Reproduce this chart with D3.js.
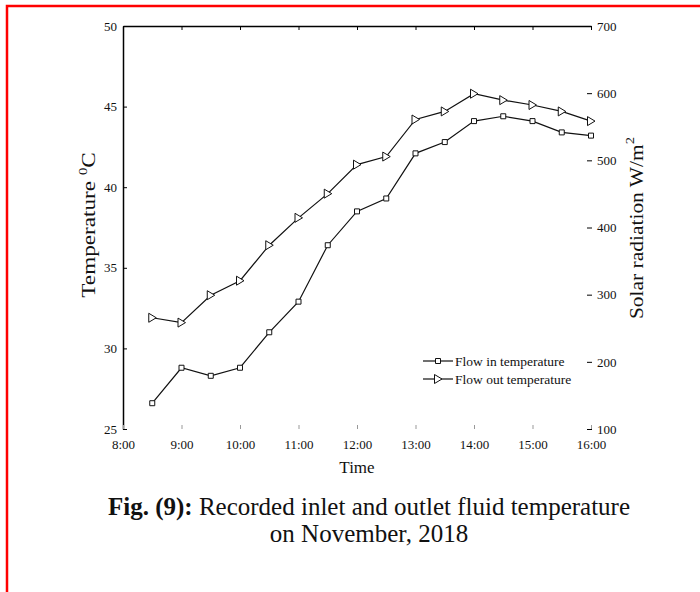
<!DOCTYPE html>
<html>
<head>
<meta charset="utf-8">
<script src="https://cdn.jsdelivr.net/npm/d3@7"></script>
<style>
  body { margin: 0; background: #fff; }
  text { font-family: "Liberation Serif", "Times New Roman", serif; fill: #111; }
</style>
</head>
<body>
<div id="vis-container"></div>
<script>
const width = 700;
const height = 592;
const margin = { top: 26, right: 109, bottom: 163, left: 123 };

// values (temperature, deg C)
const times = [8.5, 9, 9.5, 10, 10.5, 11, 11.5, 12, 12.5, 13, 13.5, 14, 14.5, 15, 15.5, 16];
const flowIn = [26.6, 28.8, 28.3, 28.8, 31.0, 32.9, 36.4, 38.5, 39.3, 42.1, 42.8, 44.1, 44.4, 44.1, 43.4, 43.2];
const flowOut = [31.9, 31.6, 33.3, 34.2, 36.4, 38.1, 39.6, 41.4, 41.9, 44.2, 44.7, 45.8, 45.4, 45.1, 44.7, 44.1];
const hourTicks = [8, 9, 10, 11, 12, 13, 14, 15, 16];
const tempTicks = [25, 30, 35, 40, 45, 50];
const radTicks = [100, 200, 300, 400, 500, 600, 700];
const seriesNames = ["Flow in temperature", "Flow out temperature"];

const svg = d3.select("#vis-container")
  .append("svg")
  .attr("width", width)
  .attr("height", height);

// red frame (top and left only)
svg.append("path")
  .attr("d", "M7,592 V6 H700")
  .attr("fill", "none")
  .attr("stroke", "#ff0000")
  .attr("stroke-width", 2.5);

// scales
const x = d3.scaleLinear()
  .domain([8, 16])
  .range([margin.left, width - margin.right]);

const y = d3.scaleLinear()
  .domain([25, 50])
  .range([height - margin.bottom, margin.top]);

const yR = d3.scaleLinear()
  .domain([100, 700])
  .range([height - margin.bottom, margin.top]);

// left axis
svg.append("g")
  .attr("transform", `translate(${margin.left},0)`)
  .call(d3.axisLeft(y).tickValues(tempTicks).tickSizeInner(-4).tickSizeOuter(0).tickPadding(6))
  .call(g => g.selectAll("text").attr("font-size", 13).attr("font-family", null))
  .call(g => g.select(".domain").attr("stroke-width", 1.5));

// top line with small ticks
svg.append("g")
  .attr("transform", `translate(0,${margin.top})`)
  .call(d3.axisTop(x).tickValues(hourTicks).tickSizeInner(-4).tickSizeOuter(0).tickFormat(""))
  .call(g => g.select(".domain").attr("stroke-width", 1.5));

// bottom axis: ticks and labels only
svg.append("g")
  .attr("transform", `translate(0,${height - margin.bottom})`)
  .call(d3.axisBottom(x).tickValues(hourTicks).tickSizeInner(-4).tickSizeOuter(0)
    .tickPadding(11).tickFormat(d => `${d}:00`))
  .call(g => g.select(".domain").remove())
  .call(g => g.selectAll("line").attr("stroke", "#999"))
  .call(g => g.selectAll("text").attr("font-size", 13).attr("font-family", null));

// right axis: dashes and labels only
svg.append("g")
  .attr("transform", `translate(${width - margin.right + 1},0)`)
  .call(d3.axisRight(yR).tickValues(radTicks).tickSizeInner(-5).tickSizeOuter(0).tickPadding(5))
  .call(g => g.select(".domain").remove())
  .call(g => g.selectAll("text").attr("font-size", 13).attr("font-family", null));

// axis titles (stretched along their length like the scanned figure)
const yTitle = svg.append("text")
  .attr("transform", "translate(95,225) rotate(-90) scale(1.22,1)")
  .attr("text-anchor", "middle")
  .attr("font-size", 19);
yTitle.append("tspan").text("Temperature ");
yTitle.append("tspan").attr("dy", -8).attr("font-size", 12).text("0");
yTitle.append("tspan").attr("dy", 8).text("C");

const rTitle = svg.append("text")
  .attr("transform", "translate(643,228) rotate(-90) scale(1.13,1)")
  .attr("text-anchor", "middle")
  .attr("font-size", 19);
rTitle.append("tspan").text("Solar radiation W/m");
rTitle.append("tspan").attr("dy", -9).attr("font-size", 13).text("2");

svg.append("text")
  .attr("x", (margin.left + width - margin.right) / 2)
  .attr("y", 473)
  .attr("text-anchor", "middle")
  .attr("font-size", 17)
  .text("Time");

// lines
const line = d3.line()
  .x((d, i) => x(times[i]))
  .y(d => y(d));

[flowIn, flowOut].forEach(series => {
  svg.append("path")
    .datum(series)
    .attr("fill", "none")
    .attr("stroke", "#111")
    .attr("stroke-width", 1.2)
    .attr("d", line);
});

// markers
const squarePath = d3.symbol().type(d3.symbolSquare).size(25)();
const trianglePath = "M-3.5,-4.5 L4,0 L-3.5,4.5 Z";

svg.append("g")
  .selectAll("path")
  .data(flowIn)
  .enter()
  .append("path")
    .attr("transform", (d, i) => `translate(${x(times[i])},${y(d)})`)
    .attr("d", squarePath)
    .attr("fill", "#fff")
    .attr("stroke", "#111")
    .attr("stroke-width", 1);

svg.append("g")
  .selectAll("path")
  .data(flowOut)
  .enter()
  .append("path")
    .attr("transform", (d, i) => `translate(${x(times[i])},${y(d)})`)
    .attr("d", trianglePath)
    .attr("fill", "#fff")
    .attr("stroke", "#111")
    .attr("stroke-width", 1);

// legend
const legend = svg.append("g");
seriesNames.forEach((name, i) => {
  const ly = 361 + i * 18;
  legend.append("line")
    .attr("x1", 423).attr("x2", 453)
    .attr("y1", ly).attr("y2", ly)
    .attr("stroke", "#111")
    .attr("stroke-width", 1.2);
  legend.append("path")
    .attr("transform", `translate(438,${ly})`)
    .attr("d", i === 0 ? squarePath : trianglePath)
    .attr("fill", "#fff")
    .attr("stroke", "#111");
  legend.append("text")
    .attr("x", 455)
    .attr("y", ly + 4.5)
    .attr("font-size", 13.5)
    .text(name);
});

// caption
const cap = svg.append("text")
  .attr("x", 369)
  .attr("y", 515)
  .attr("text-anchor", "middle")
  .attr("font-size", 25);
cap.append("tspan").attr("font-weight", "bold").text("Fig. (9):");
cap.append("tspan").text(" Recorded inlet and outlet fluid temperature");

svg.append("text")
  .attr("x", 369)
  .attr("y", 542)
  .attr("text-anchor", "middle")
  .attr("font-size", 25)
  .text("on November, 2018");
</script>
</body>
</html>
